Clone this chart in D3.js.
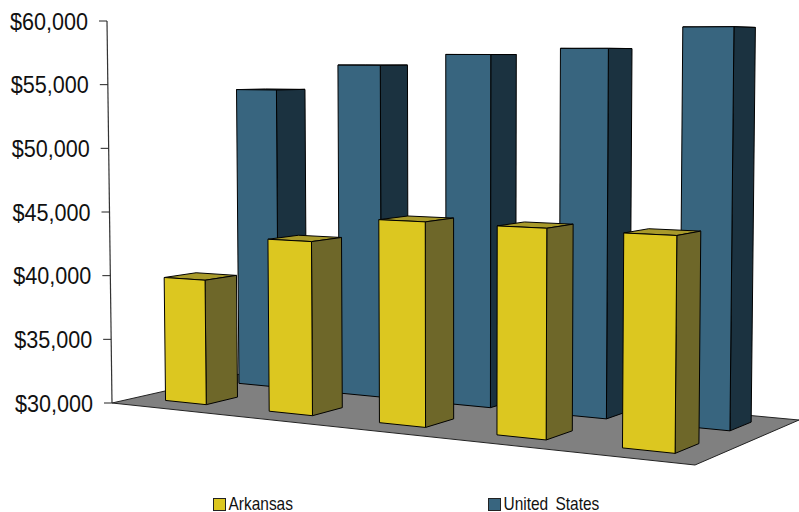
<!DOCTYPE html>
<html><head><meta charset="utf-8">
<script src="https://cdn.jsdelivr.net/npm/d3@7/dist/d3.min.js"></script>
<style>html,body{margin:0;background:#fff}svg{display:block}text{font-family:"Liberation Sans",sans-serif;fill:#111}</style>
</head><body><svg id="c" width="799" height="512"></svg>
<script>
const categories = [1, 2, 3, 4, 5];
const seriesNames = ["Arkansas", "United States"];
const arkansas = [39730, 43200, 45100, 45050, 44970];
const unitedStates = [54470, 56540, 57410, 57880, 59450];
const tickValues = [30000, 35000, 40000, 45000, 50000, 55000, 60000];
const seriesColors = {
  "Arkansas": {front:"#dcc720", side:"#6e6729", top:"#a89a2b"},
  "United States": {front:"#38657f", side:"#1b3240", top:"#1f3a4a"}
};

const svg = d3.select("#c");

// floor: projective map of the unit square (u along categories, v in depth)
const A=[112,403], B=[695,465], C=[799,420], D=[258,370];
const wB=0.85, wD=1.106, gu=wB-1, gv=wD-1;
function floor(u,v){
  const w=1+gu*u+gv*v;
  return {w,
    x:((B[0]*wB-A[0])*u+(D[0]*wD-A[0])*v+A[0])/w,
    y:((B[1]*wB-A[1])*u+(D[1]*wD-A[1])*v+A[1])/w};
}
const y = d3.scaleLinear().domain([30000,60000]).range([403,21]);
const vanishX = 464, vanishDist = 26900;
// project a point on the floor raised to a value
function project(u,v,val){
  const f=floor(u,v), h=(y(30000)-y(val))/f.w;
  return [f.x+(f.x-vanishX)*h/vanishDist, f.y-h];
}
const xBand = d3.scaleBand().domain(categories).range([-0.002,1.004]).paddingInner(0.6).paddingOuter(0.3);
const zBand = d3.scaleBand().domain(seriesNames).range([0.01,1.01]).paddingInner(0.58).paddingOuter(0.29);

const poly = pts => d3.line()(pts)+"Z";

svg.append("path").attr("d",poly([A,B,C,D])).attr("fill","#808080").attr("stroke","#222").attr("stroke-width",1);

// axis
const axisX = v => project(0,0,v)[0];
svg.append("line").attr("x1",axisX(30000)).attr("y1",y(30000)).attr("x2",axisX(60000)).attr("y2",y(60000)).attr("stroke","#333").attr("stroke-width",1.2);
const tick = svg.append("g").selectAll("g").data(tickValues).join("g");
tick.append("line").attr("x1",d=>axisX(d)-8).attr("x2",d=>axisX(d)).attr("y1",d=>y(d)).attr("y2",d=>y(d)).attr("stroke","#222").attr("stroke-width",1);
tick.append("text").attr("x",d=>axisX(d)-19).attr("y",d=>y(d)).attr("dy","0.36em").attr("text-anchor","end")
  .attr("font-size",24).attr("textLength",78).attr("lengthAdjust","spacingAndGlyphs").text(d3.format("$,"));

// bars: back series first
function drawSeries(name, values){
  const c=seriesColors[name], v0=zBand(name), v1=v0+zBand.bandwidth();
  const g=svg.append("g");
  categories.forEach((cat,i)=>{
    const u0=xBand(cat), u1=u0+xBand.bandwidth(), val=values[i];
    const faces=[
      {p:[project(u0,v0,val),project(u1,v0,val),project(u1,v1,val),project(u0,v1,val)],fill:c.top},
      {p:[project(u1,v0,30000),project(u1,v1,30000),project(u1,v1,val),project(u1,v0,val)],fill:c.side},
      {p:[project(u0,v0,30000),project(u1,v0,30000),project(u1,v0,val),project(u0,v0,val)],fill:c.front}
    ];
    g.append("g").selectAll("path").data(faces).join("path")
      .attr("d",d=>poly(d.p)).attr("fill",d=>d.fill).attr("stroke","#000").attr("stroke-width",1).attr("stroke-linejoin","round");
  });
}
drawSeries("United States", unitedStates);
drawSeries("Arkansas", arkansas);

// legend
const legendX = d3.scalePoint().domain(seriesNames).range([213,488]);
const lg = svg.append("g").selectAll("g").data(seriesNames).join("g").attr("transform",d=>`translate(${legendX(d)},498)`);
lg.append("rect").attr("x",0.5).attr("y",0.5).attr("width",12).attr("height",12).attr("fill",d=>seriesColors[d].front).attr("stroke","#222");
lg.append("text").attr("transform","translate(15.5,12) scale(0.86,1)").attr("font-size",18).attr("word-spacing",3.5).text(d=>d);
</script></body></html>
